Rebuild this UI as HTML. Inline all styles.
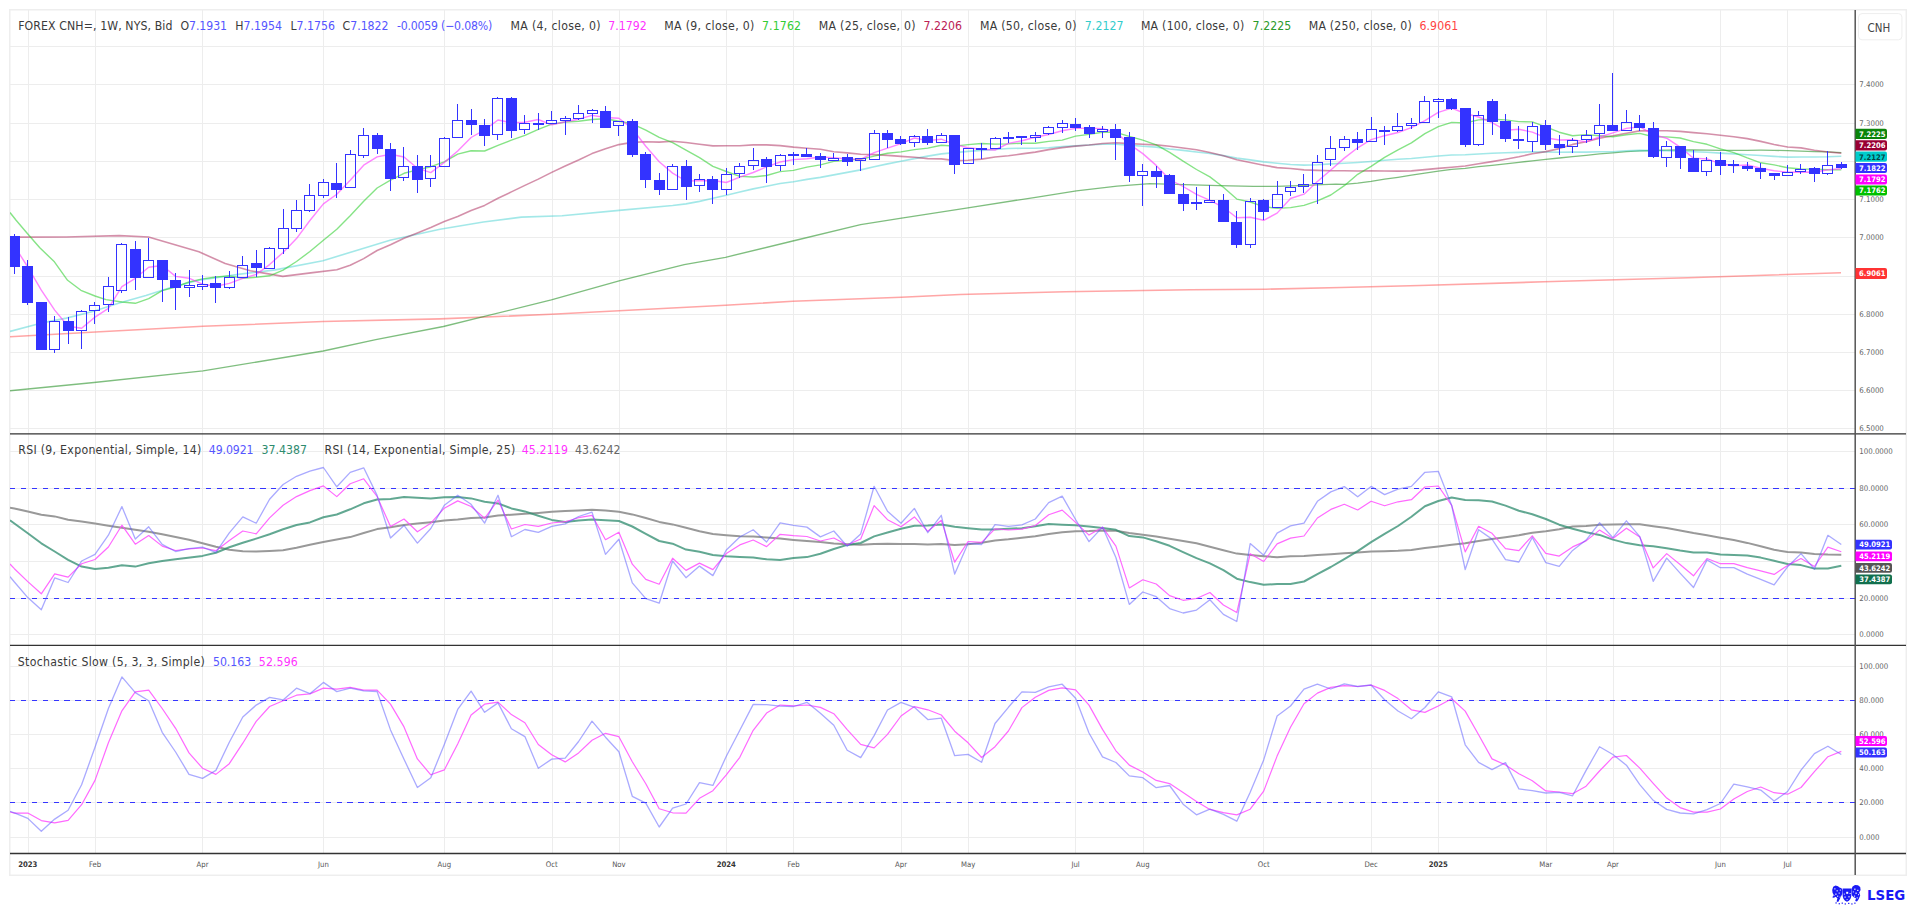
<!DOCTYPE html>
<html><head><meta charset="utf-8"><title>FOREX CNH= chart</title>
<style>html,body{margin:0;padding:0;background:#fff;width:1916px;height:905px;overflow:hidden}svg{display:block}</style>
</head><body>
<svg width="1916" height="905" viewBox="0 0 1916 905" font-family="'DejaVu Sans Condensed','DejaVu Sans','Liberation Sans',sans-serif">
<rect x="0" y="0" width="1916" height="905" fill="#ffffff"/>
<rect x="9.75" y="9.75" width="1896.5" height="865.5" fill="none" stroke="#eeeeee" stroke-width="1.5"/>
<g stroke="#ededed" stroke-width="1" shape-rendering="crispEdges">
<line x1="28.5" y1="10" x2="28.5" y2="853"/>
<line x1="95.5" y1="10" x2="95.5" y2="853"/>
<line x1="202.5" y1="10" x2="202.5" y2="853"/>
<line x1="323.5" y1="10" x2="323.5" y2="853"/>
<line x1="444.5" y1="10" x2="444.5" y2="853"/>
<line x1="552.5" y1="10" x2="552.5" y2="853"/>
<line x1="619.5" y1="10" x2="619.5" y2="853"/>
<line x1="726.5" y1="10" x2="726.5" y2="853"/>
<line x1="793.5" y1="10" x2="793.5" y2="853"/>
<line x1="901.5" y1="10" x2="901.5" y2="853"/>
<line x1="968.5" y1="10" x2="968.5" y2="853"/>
<line x1="1075.5" y1="10" x2="1075.5" y2="853"/>
<line x1="1143.5" y1="10" x2="1143.5" y2="853"/>
<line x1="1263.5" y1="10" x2="1263.5" y2="853"/>
<line x1="1371.5" y1="10" x2="1371.5" y2="853"/>
<line x1="1438.5" y1="10" x2="1438.5" y2="853"/>
<line x1="1546.5" y1="10" x2="1546.5" y2="853"/>
<line x1="1613.5" y1="10" x2="1613.5" y2="853"/>
<line x1="1720.5" y1="10" x2="1720.5" y2="853"/>
<line x1="1787.5" y1="10" x2="1787.5" y2="853"/>
<line x1="10" y1="46.5" x2="1855" y2="46.5"/>
<line x1="10" y1="84.5" x2="1855" y2="84.5"/>
<line x1="10" y1="123.5" x2="1855" y2="123.5"/>
<line x1="10" y1="161.5" x2="1855" y2="161.5"/>
<line x1="10" y1="199.5" x2="1855" y2="199.5"/>
<line x1="10" y1="237.5" x2="1855" y2="237.5"/>
<line x1="10" y1="276.5" x2="1855" y2="276.5"/>
<line x1="10" y1="314.5" x2="1855" y2="314.5"/>
<line x1="10" y1="352.5" x2="1855" y2="352.5"/>
<line x1="10" y1="390.5" x2="1855" y2="390.5"/>
<line x1="10" y1="428.5" x2="1855" y2="428.5"/>
<line x1="10" y1="451.5" x2="1855" y2="451.5"/>
<line x1="10" y1="666.5" x2="1855" y2="666.5"/>
<line x1="10" y1="488.5" x2="1855" y2="488.5"/>
<line x1="10" y1="700.5" x2="1855" y2="700.5"/>
<line x1="10" y1="524.5" x2="1855" y2="524.5"/>
<line x1="10" y1="734.5" x2="1855" y2="734.5"/>
<line x1="10" y1="561.5" x2="1855" y2="561.5"/>
<line x1="10" y1="768.5" x2="1855" y2="768.5"/>
<line x1="10" y1="598.5" x2="1855" y2="598.5"/>
<line x1="10" y1="802.5" x2="1855" y2="802.5"/>
<line x1="10" y1="634.5" x2="1855" y2="634.5"/>
<line x1="10" y1="837.5" x2="1855" y2="837.5"/>
</g>
<g stroke="#3535ff" stroke-width="1" stroke-dasharray="5.2 5.685" shape-rendering="crispEdges">
<line x1="10" y1="488.5" x2="1855" y2="488.5"/>
<line x1="10" y1="700.5" x2="1855" y2="700.5"/>
<line x1="10" y1="598.5" x2="1855" y2="598.5"/>
<line x1="10" y1="802.5" x2="1855" y2="802.5"/>
</g>
<defs><clipPath id="cm"><rect x="10" y="10" width="1845" height="423"/></clipPath><clipPath id="cr"><rect x="10" y="435" width="1845" height="210"/></clipPath><clipPath id="cs"><rect x="10" y="646" width="1845" height="207"/></clipPath></defs>
<g clip-path="url(#cm)" fill="none" stroke-width="1.6" stroke-linejoin="round">
<path d="M10.0,336.7 L100.0,331.8 L203.0,326.3 L323.0,321.5 L440.0,318.9 L551.3,314.3 L725.5,305.3 L792.8,301.3 L901.3,297.2 L960.0,294.5 L1065.3,291.7 L1190.6,289.7 L1265.8,289.2 L1341.0,287.5 L1420.0,285.5 L1544.0,281.8 L1688.0,277.7 L1841.0,272.7" stroke="#ff4d4d" stroke-opacity="0.5"/>
<path d="M10.0,390.8 L94.0,382.5 L203.0,370.9 L323.2,351.0 L375.8,339.7 L443.4,326.5 L483.4,316.7 L551.3,299.9 L619.1,280.9 L684.2,264.6 L725.5,257.3 L792.8,241.0 L860.6,224.7 L900.0,218.4 L967.9,207.8 L1035.7,197.3 L1076.4,190.9 L1117.1,186.1 L1150.0,183.6 L1184.4,184.7 L1218.9,185.7 L1253.3,186.4 L1276.3,186.4 L1299.3,185.7 L1322.2,184.6 L1336.0,184.2 L1344.3,184.4 L1357.7,183.2 L1371.1,181.4 L1384.6,179.2 L1398.0,177.3 L1411.4,175.2 L1424.9,173.1 L1438.3,171.1 L1451.7,169.3 L1465.2,168.3 L1478.6,166.7 L1492.0,165.3 L1505.5,163.9 L1518.9,162.4 L1532.3,160.8 L1545.8,159.4 L1559.2,158.0 L1572.6,156.7 L1586.1,155.4 L1599.5,153.9 L1612.9,152.8 L1626.4,151.7 L1639.8,150.9 L1653.2,150.5 L1666.7,150.1 L1680.1,149.8 L1693.5,150.0 L1707.0,150.2 L1720.4,150.4 L1733.8,150.3 L1747.3,150.3 L1760.7,150.2 L1774.1,150.3 L1787.6,150.7 L1801.0,151.2 L1814.4,151.6 L1827.9,151.9 L1841.3,152.6" stroke="#2a922a" stroke-opacity="0.6" stroke-width="1.35"/>
<path d="M10.0,331.4 L39.8,323.4 L66.3,318.1 L92.8,311.5 L119.3,302.9 L145.9,295.6 L172.4,287.0 L198.9,280.3 L225.4,276.4 L240.0,274.1 L275.3,269.9 L322.9,260.7 L390.0,240.3 L440.0,229.3 L483.4,222.0 L521.4,217.1 L562.1,215.8 L619.1,210.4 L672.6,205.5 L686.0,203.9 L699.5,201.4 L712.9,198.2 L726.3,195.3 L739.8,192.0 L753.2,188.9 L766.6,186.2 L780.1,183.5 L793.5,181.8 L806.9,179.4 L820.4,177.4 L833.8,174.9 L847.2,172.4 L860.7,169.9 L874.1,166.8 L887.5,163.9 L901.0,161.2 L914.4,158.6 L927.8,156.1 L941.3,153.9 L954.7,152.6 L968.1,151.4 L981.6,150.4 L995.0,149.5 L1008.4,148.5 L1021.9,148.2 L1035.3,148.2 L1048.7,147.7 L1062.2,146.6 L1075.6,145.9 L1089.0,145.0 L1102.5,144.2 L1115.9,144.2 L1129.3,145.3 L1142.8,146.3 L1156.2,147.1 L1169.6,149.0 L1183.1,150.4 L1196.5,152.0 L1209.9,153.5 L1223.4,155.6 L1236.8,158.1 L1250.2,159.9 L1263.7,161.9 L1277.1,163.2 L1290.5,164.5 L1304.0,165.1 L1317.4,164.7 L1330.8,163.9 L1344.3,163.3 L1357.7,162.5 L1371.1,161.5 L1384.6,160.3 L1398.0,159.3 L1411.4,158.5 L1424.9,157.3 L1438.3,156.0 L1451.7,155.0 L1465.2,154.8 L1478.6,154.0 L1492.0,153.2 L1505.5,152.8 L1518.9,152.4 L1532.3,151.8 L1545.8,152.0 L1559.2,152.2 L1572.6,152.1 L1586.1,152.1 L1599.5,151.7 L1612.9,151.7 L1626.4,150.8 L1639.8,150.4 L1653.2,150.6 L1666.7,150.7 L1680.1,151.1 L1693.5,151.8 L1707.0,152.3 L1720.4,153.1 L1733.8,153.9 L1747.3,154.7 L1760.7,155.5 L1774.1,156.4 L1787.6,157.1 L1801.0,157.0 L1814.4,157.0 L1827.9,156.8 L1841.3,156.3" stroke="#33cccc" stroke-opacity="0.45"/>
<path d="M10.0,237.1 L66.3,237.0 L119.3,235.6 L148.5,237.0 L172.4,243.9 L198.9,251.8 L225.2,263.5 L250.2,270.7 L282.8,276.4 L312.8,272.6 L336.8,269.8 L350.2,265.3 L363.7,258.6 L377.1,250.5 L390.5,244.8 L404.0,238.2 L417.4,232.9 L430.8,227.4 L444.3,221.5 L457.7,216.5 L471.1,210.4 L484.6,205.4 L498.0,198.2 L511.4,191.9 L524.9,185.4 L538.3,179.1 L551.7,172.4 L565.2,166.0 L578.6,160.0 L592.0,153.6 L605.5,148.8 L618.9,144.6 L632.3,142.4 L645.8,141.8 L659.2,142.1 L672.6,141.2 L686.0,142.5 L699.5,144.2 L712.9,145.9 L726.3,145.7 L739.8,145.7 L753.2,144.9 L766.6,144.9 L780.1,145.6 L793.5,147.1 L806.9,148.3 L820.4,149.3 L833.8,151.7 L847.2,152.9 L860.7,154.3 L874.1,154.6 L887.5,155.4 L901.0,156.4 L914.4,157.3 L927.8,158.6 L941.3,158.9 L954.7,160.6 L968.1,160.3 L981.6,159.1 L995.0,157.0 L1008.4,155.8 L1021.9,153.9 L1035.3,152.1 L1048.7,149.6 L1062.2,147.6 L1075.6,146.1 L1089.0,145.0 L1102.5,143.5 L1115.9,142.8 L1129.3,143.6 L1142.8,144.2 L1156.2,144.9 L1169.6,146.3 L1183.1,148.0 L1196.5,149.8 L1209.9,152.5 L1223.4,155.8 L1236.8,159.8 L1250.2,162.5 L1263.7,165.2 L1277.1,167.6 L1290.5,168.5 L1304.0,169.9 L1317.4,170.4 L1330.8,170.8 L1344.3,170.8 L1357.7,171.0 L1371.1,170.8 L1384.6,171.0 L1398.0,171.1 L1411.4,170.9 L1424.9,169.6 L1438.3,168.4 L1451.7,167.2 L1465.2,166.0 L1478.6,163.8 L1492.0,161.6 L1505.5,159.3 L1518.9,156.8 L1532.3,153.8 L1545.8,151.6 L1559.2,148.6 L1572.6,144.4 L1586.1,141.7 L1599.5,138.2 L1612.9,135.7 L1626.4,133.2 L1639.8,130.9 L1653.2,130.7 L1666.7,130.7 L1680.1,131.4 L1693.5,132.6 L1707.0,133.8 L1720.4,135.2 L1733.8,136.7 L1747.3,138.6 L1760.7,141.4 L1774.1,144.5 L1787.6,147.0 L1801.0,147.9 L1814.4,150.3 L1827.9,152.0 L1841.3,153.2" stroke="#aa2255" stroke-opacity="0.5"/>
<path d="M10.0,212.5 L15.9,220.0 L27.8,234.0 L39.8,247.8 L54.4,261.8 L67.6,280.3 L80.9,290.3 L95.0,296.0 L106.0,299.6 L121.9,302.0 L135.3,303.3 L148.7,298.6 L162.2,290.7 L175.6,287.0 L189.0,282.0 L202.5,278.9 L215.9,277.0 L229.3,275.9 L242.8,278.3 L256.2,277.2 L269.6,275.8 L283.1,270.1 L296.5,261.5 L309.9,251.5 L323.4,240.2 L336.8,229.3 L350.2,215.7 L363.7,201.2 L377.1,188.0 L390.5,180.2 L404.0,173.3 L417.4,169.9 L430.8,166.7 L444.3,161.8 L457.7,154.1 L471.1,150.8 L484.6,151.0 L498.0,145.4 L511.4,140.1 L524.9,135.4 L538.3,129.3 L551.7,124.2 L565.2,122.0 L578.6,121.2 L592.0,119.5 L605.5,118.7 L618.9,121.2 L632.3,123.8 L645.8,130.2 L659.2,137.4 L672.6,142.6 L686.0,150.2 L699.5,157.6 L712.9,166.4 L726.3,171.5 L739.8,176.4 L753.2,177.0 L766.6,175.5 L780.1,171.6 L793.5,170.4 L806.9,167.1 L820.4,164.9 L833.8,161.4 L847.2,160.0 L860.7,159.2 L874.1,156.1 L887.5,153.2 L901.0,151.9 L914.4,149.6 L927.8,148.1 L941.3,145.3 L954.7,146.1 L968.1,144.6 L981.6,143.5 L995.0,144.1 L1008.4,143.9 L1021.9,143.2 L1035.3,143.2 L1048.7,141.4 L1062.2,140.1 L1075.6,136.1 L1089.0,134.4 L1102.5,132.2 L1115.9,132.3 L1129.3,136.4 L1142.8,140.2 L1156.2,144.8 L1169.6,152.3 L1183.1,161.2 L1196.5,169.5 L1209.9,176.9 L1223.4,187.2 L1236.8,199.1 L1250.2,202.0 L1263.7,206.6 L1277.1,208.4 L1290.5,207.6 L1304.0,205.4 L1317.4,200.8 L1330.8,195.0 L1344.3,185.7 L1357.7,174.3 L1371.1,166.3 L1384.6,157.4 L1398.0,149.9 L1411.4,142.8 L1424.9,133.6 L1438.3,126.7 L1451.7,122.4 L1465.2,123.0 L1478.6,119.9 L1492.0,119.2 L1505.5,119.9 L1518.9,121.6 L1532.3,121.9 L1545.8,126.8 L1559.2,132.2 L1572.6,135.7 L1586.1,134.6 L1599.5,135.7 L1612.9,136.7 L1626.4,134.8 L1639.8,133.4 L1653.2,136.8 L1666.7,136.9 L1680.1,138.0 L1693.5,141.6 L1707.0,144.3 L1720.4,148.8 L1733.8,152.6 L1747.3,157.9 L1760.7,162.8 L1774.1,164.9 L1787.6,167.7 L1801.0,169.0 L1814.4,169.1 L1827.9,169.7 L1841.3,169.9" stroke="#22cc22" stroke-opacity="0.55" stroke-width="1.4"/>
<path d="M10.0,240.0 L14.4,246.0 L27.8,267.0 L41.3,290.2 L54.7,310.1 L68.1,326.2 L81.6,328.3 L95.0,317.1 L108.4,308.4 L121.9,286.7 L135.3,278.3 L148.7,267.2 L162.2,265.5 L175.6,276.4 L189.0,278.2 L202.5,284.2 L215.9,286.2 L229.3,283.4 L242.8,278.4 L256.2,274.4 L269.6,264.6 L283.1,252.4 L296.5,238.6 L309.9,220.5 L323.4,203.9 L336.8,194.3 L350.2,180.3 L363.7,165.2 L377.1,156.9 L390.5,154.2 L404.0,157.0 L417.4,168.2 L430.8,172.6 L444.3,162.4 L457.7,151.0 L471.1,137.5 L484.6,129.9 L498.0,120.0 L511.4,122.8 L524.9,122.2 L538.3,119.5 L551.7,124.9 L565.2,121.7 L578.6,119.2 L592.0,115.4 L605.5,117.5 L618.9,118.2 L632.3,128.7 L645.8,146.2 L659.2,161.7 L672.6,173.1 L686.0,181.0 L699.5,180.7 L712.9,180.5 L726.3,182.5 L739.8,177.2 L753.2,172.5 L766.6,166.8 L780.1,162.0 L793.5,159.6 L806.9,158.7 L820.4,157.0 L833.8,157.6 L847.2,159.0 L860.7,159.4 L874.1,152.6 L887.5,148.2 L901.0,143.7 L914.4,138.0 L927.8,140.6 L941.3,139.2 L954.7,144.6 L968.1,147.7 L981.6,149.2 L995.0,150.0 L1008.4,143.4 L1021.9,140.7 L1035.3,137.2 L1048.7,134.5 L1062.2,130.8 L1075.6,128.4 L1089.0,128.1 L1102.5,128.6 L1115.9,132.3 L1129.3,144.1 L1142.8,153.6 L1156.2,165.4 L1169.6,179.5 L1183.1,186.5 L1196.5,194.4 L1209.9,200.3 L1223.4,207.3 L1236.8,217.7 L1250.2,217.3 L1263.7,220.3 L1277.1,213.1 L1290.5,198.5 L1304.0,194.2 L1317.4,181.5 L1330.8,170.0 L1344.3,158.1 L1357.7,147.8 L1371.1,139.7 L1384.6,135.7 L1398.0,132.5 L1411.4,127.6 L1424.9,120.6 L1438.3,112.4 L1451.7,108.1 L1465.2,113.5 L1478.6,117.0 L1492.0,122.7 L1505.5,130.2 L1518.9,129.3 L1532.3,132.1 L1545.8,137.7 L1559.2,140.0 L1572.6,139.8 L1586.1,141.9 L1599.5,137.0 L1612.9,132.8 L1626.4,128.4 L1639.8,126.7 L1653.2,134.6 L1666.7,138.2 L1680.1,147.1 L1693.5,158.2 L1707.0,158.9 L1720.4,163.8 L1733.8,165.8 L1747.3,165.0 L1760.7,168.2 L1774.1,170.7 L1787.6,172.2 L1801.0,172.0 L1814.4,172.3 L1827.9,169.8 L1841.3,168.8" stroke="#ff33ff" stroke-opacity="0.6" stroke-width="1.4"/>
</g>
<g clip-path="url(#cm)" stroke="#3333ff" stroke-width="1" shape-rendering="crispEdges">
<line x1="14.5" y1="234" x2="14.5" y2="274"/>
<rect x="9.0" y="236" width="11" height="31" fill="#3333ff" stroke="none"/>
<line x1="27.5" y1="260" x2="27.5" y2="305"/>
<rect x="22.0" y="266" width="11" height="37" fill="#3333ff" stroke="none"/>
<line x1="41.5" y1="302" x2="41.5" y2="350"/>
<rect x="36.0" y="302" width="11" height="48" fill="#3333ff" stroke="none"/>
<line x1="54.5" y1="316" x2="54.5" y2="321"/>
<line x1="54.5" y1="350" x2="54.5" y2="353"/>
<rect x="49.5" y="321.5" width="10" height="28" fill="none"/>
<line x1="68.5" y1="317" x2="68.5" y2="344"/>
<rect x="63.0" y="321" width="11" height="10" fill="#3333ff" stroke="none"/>
<line x1="81.5" y1="310" x2="81.5" y2="311"/>
<line x1="81.5" y1="331" x2="81.5" y2="349"/>
<rect x="76.5" y="311.5" width="10" height="19" fill="none"/>
<line x1="94.5" y1="302" x2="94.5" y2="305"/>
<line x1="94.5" y1="311" x2="94.5" y2="324"/>
<rect x="89.5" y="305.5" width="10" height="5" fill="none"/>
<line x1="108.5" y1="277" x2="108.5" y2="286"/>
<line x1="108.5" y1="305" x2="108.5" y2="312"/>
<rect x="103.5" y="286.5" width="10" height="18" fill="none"/>
<line x1="121.5" y1="243" x2="121.5" y2="244"/>
<line x1="121.5" y1="291" x2="121.5" y2="293"/>
<rect x="116.5" y="244.5" width="10" height="46" fill="none"/>
<line x1="135.5" y1="241" x2="135.5" y2="290"/>
<rect x="130.0" y="249" width="11" height="29" fill="#3333ff" stroke="none"/>
<line x1="148.5" y1="238" x2="148.5" y2="260"/>
<rect x="143.5" y="260.5" width="10" height="17" fill="none"/>
<line x1="162.5" y1="260" x2="162.5" y2="302"/>
<rect x="157.0" y="260" width="11" height="20" fill="#3333ff" stroke="none"/>
<line x1="175.5" y1="273" x2="175.5" y2="310"/>
<rect x="170.0" y="280" width="11" height="8" fill="#3333ff" stroke="none"/>
<line x1="189.5" y1="270" x2="189.5" y2="285"/>
<line x1="189.5" y1="288" x2="189.5" y2="297"/>
<rect x="184.5" y="285.5" width="10" height="2" fill="none"/>
<line x1="202.5" y1="275" x2="202.5" y2="284"/>
<line x1="202.5" y1="287" x2="202.5" y2="290"/>
<rect x="197.5" y="284.5" width="10" height="2" fill="none"/>
<line x1="215.5" y1="276" x2="215.5" y2="303"/>
<rect x="210.0" y="283" width="11" height="5" fill="#3333ff" stroke="none"/>
<line x1="229.5" y1="271" x2="229.5" y2="277"/>
<line x1="229.5" y1="288" x2="229.5" y2="289"/>
<rect x="224.5" y="277.5" width="10" height="10" fill="none"/>
<line x1="242.5" y1="256" x2="242.5" y2="265"/>
<rect x="237.5" y="265.5" width="10" height="12" fill="none"/>
<line x1="256.5" y1="250" x2="256.5" y2="277"/>
<rect x="251.0" y="263" width="11" height="5" fill="#3333ff" stroke="none"/>
<line x1="269.5" y1="247" x2="269.5" y2="248"/>
<rect x="264.5" y="248.5" width="10" height="20" fill="none"/>
<line x1="283.5" y1="209" x2="283.5" y2="228"/>
<line x1="283.5" y1="249" x2="283.5" y2="254"/>
<rect x="278.5" y="228.5" width="10" height="20" fill="none"/>
<line x1="296.5" y1="200" x2="296.5" y2="210"/>
<line x1="296.5" y1="229" x2="296.5" y2="232"/>
<rect x="291.5" y="210.5" width="10" height="18" fill="none"/>
<line x1="309.5" y1="184" x2="309.5" y2="195"/>
<line x1="309.5" y1="211" x2="309.5" y2="212"/>
<rect x="304.5" y="195.5" width="10" height="15" fill="none"/>
<line x1="323.5" y1="179" x2="323.5" y2="182"/>
<line x1="323.5" y1="196" x2="323.5" y2="198"/>
<rect x="318.5" y="182.5" width="10" height="13" fill="none"/>
<line x1="336.5" y1="163" x2="336.5" y2="198"/>
<rect x="331.0" y="183" width="11" height="7" fill="#3333ff" stroke="none"/>
<line x1="350.5" y1="150" x2="350.5" y2="154"/>
<rect x="345.5" y="154.5" width="10" height="33" fill="none"/>
<line x1="363.5" y1="128" x2="363.5" y2="135"/>
<line x1="363.5" y1="156" x2="363.5" y2="158"/>
<rect x="358.5" y="135.5" width="10" height="20" fill="none"/>
<line x1="377.5" y1="133" x2="377.5" y2="154"/>
<rect x="372.0" y="135" width="11" height="14" fill="#3333ff" stroke="none"/>
<line x1="390.5" y1="143" x2="390.5" y2="191"/>
<rect x="385.0" y="149" width="11" height="30" fill="#3333ff" stroke="none"/>
<line x1="403.5" y1="147" x2="403.5" y2="166"/>
<line x1="403.5" y1="178" x2="403.5" y2="181"/>
<rect x="398.5" y="166.5" width="10" height="11" fill="none"/>
<line x1="417.5" y1="155" x2="417.5" y2="193"/>
<rect x="412.0" y="166" width="11" height="14" fill="#3333ff" stroke="none"/>
<line x1="430.5" y1="155" x2="430.5" y2="166"/>
<line x1="430.5" y1="179" x2="430.5" y2="187"/>
<rect x="425.5" y="166.5" width="10" height="12" fill="none"/>
<line x1="444.5" y1="137" x2="444.5" y2="138"/>
<rect x="439.5" y="138.5" width="10" height="28" fill="none"/>
<line x1="457.5" y1="104" x2="457.5" y2="120"/>
<rect x="452.5" y="120.5" width="10" height="17" fill="none"/>
<line x1="471.5" y1="109" x2="471.5" y2="135"/>
<rect x="466.0" y="120" width="11" height="5" fill="#3333ff" stroke="none"/>
<line x1="484.5" y1="119" x2="484.5" y2="146"/>
<rect x="479.0" y="125" width="11" height="11" fill="#3333ff" stroke="none"/>
<line x1="497.5" y1="97" x2="497.5" y2="98"/>
<line x1="497.5" y1="135" x2="497.5" y2="140"/>
<rect x="492.5" y="98.5" width="10" height="36" fill="none"/>
<line x1="511.5" y1="97" x2="511.5" y2="138"/>
<rect x="506.0" y="98" width="11" height="33" fill="#3333ff" stroke="none"/>
<line x1="524.5" y1="115" x2="524.5" y2="123"/>
<line x1="524.5" y1="130" x2="524.5" y2="134"/>
<rect x="519.5" y="123.5" width="10" height="6" fill="none"/>
<line x1="538.5" y1="113" x2="538.5" y2="130"/>
<rect x="533.0" y="123" width="11" height="2" fill="#3333ff" stroke="none"/>
<line x1="551.5" y1="111" x2="551.5" y2="120"/>
<rect x="546.5" y="120.5" width="10" height="3" fill="none"/>
<line x1="565.5" y1="116" x2="565.5" y2="118"/>
<line x1="565.5" y1="121" x2="565.5" y2="135"/>
<rect x="560.5" y="118.5" width="10" height="2" fill="none"/>
<line x1="578.5" y1="105" x2="578.5" y2="113"/>
<line x1="578.5" y1="119" x2="578.5" y2="120"/>
<rect x="573.5" y="113.5" width="10" height="5" fill="none"/>
<line x1="592.5" y1="109" x2="592.5" y2="110"/>
<line x1="592.5" y1="114" x2="592.5" y2="123"/>
<rect x="587.5" y="110.5" width="10" height="3" fill="none"/>
<line x1="605.5" y1="106" x2="605.5" y2="128"/>
<rect x="600.0" y="111" width="11" height="17" fill="#3333ff" stroke="none"/>
<line x1="618.5" y1="126" x2="618.5" y2="136"/>
<rect x="613.5" y="121.5" width="10" height="4" fill="none"/>
<line x1="632.5" y1="119" x2="632.5" y2="157"/>
<rect x="627.0" y="121" width="11" height="34" fill="#3333ff" stroke="none"/>
<line x1="645.5" y1="152" x2="645.5" y2="188"/>
<rect x="640.0" y="154" width="11" height="26" fill="#3333ff" stroke="none"/>
<line x1="659.5" y1="173" x2="659.5" y2="195"/>
<rect x="654.0" y="180" width="11" height="10" fill="#3333ff" stroke="none"/>
<line x1="672.5" y1="164" x2="672.5" y2="166"/>
<rect x="667.5" y="166.5" width="10" height="23" fill="none"/>
<line x1="686.5" y1="160" x2="686.5" y2="200"/>
<rect x="681.0" y="166" width="11" height="21" fill="#3333ff" stroke="none"/>
<line x1="699.5" y1="174" x2="699.5" y2="179"/>
<line x1="699.5" y1="186" x2="699.5" y2="192"/>
<rect x="694.5" y="179.5" width="10" height="6" fill="none"/>
<line x1="712.5" y1="176" x2="712.5" y2="204"/>
<rect x="707.0" y="179" width="11" height="11" fill="#3333ff" stroke="none"/>
<line x1="726.5" y1="168" x2="726.5" y2="174"/>
<line x1="726.5" y1="190" x2="726.5" y2="195"/>
<rect x="721.5" y="174.5" width="10" height="15" fill="none"/>
<line x1="739.5" y1="163" x2="739.5" y2="166"/>
<line x1="739.5" y1="174" x2="739.5" y2="178"/>
<rect x="734.5" y="166.5" width="10" height="7" fill="none"/>
<line x1="753.5" y1="148" x2="753.5" y2="160"/>
<line x1="753.5" y1="166" x2="753.5" y2="170"/>
<rect x="748.5" y="160.5" width="10" height="5" fill="none"/>
<line x1="766.5" y1="157" x2="766.5" y2="183"/>
<rect x="761.0" y="159" width="11" height="8" fill="#3333ff" stroke="none"/>
<line x1="780.5" y1="154" x2="780.5" y2="155"/>
<line x1="780.5" y1="166" x2="780.5" y2="171"/>
<rect x="775.5" y="155.5" width="10" height="10" fill="none"/>
<line x1="793.5" y1="152" x2="793.5" y2="165"/>
<rect x="788.0" y="154" width="11" height="2" fill="#3333ff" stroke="none"/>
<line x1="806.5" y1="148" x2="806.5" y2="157"/>
<rect x="801.0" y="154" width="11" height="3" fill="#3333ff" stroke="none"/>
<line x1="820.5" y1="153" x2="820.5" y2="168"/>
<rect x="815.0" y="156" width="11" height="4" fill="#3333ff" stroke="none"/>
<line x1="833.5" y1="153" x2="833.5" y2="158"/>
<rect x="828.5" y="158.5" width="10" height="2" fill="none"/>
<line x1="847.5" y1="154" x2="847.5" y2="166"/>
<rect x="842.0" y="157" width="11" height="5" fill="#3333ff" stroke="none"/>
<line x1="860.5" y1="161" x2="860.5" y2="171"/>
<rect x="855.5" y="158.5" width="10" height="2" fill="none"/>
<line x1="874.5" y1="130" x2="874.5" y2="133"/>
<rect x="869.5" y="133.5" width="10" height="26" fill="none"/>
<line x1="887.5" y1="130" x2="887.5" y2="148"/>
<rect x="882.0" y="133" width="11" height="7" fill="#3333ff" stroke="none"/>
<line x1="900.5" y1="136" x2="900.5" y2="145"/>
<rect x="895.0" y="139" width="11" height="5" fill="#3333ff" stroke="none"/>
<line x1="914.5" y1="135" x2="914.5" y2="136"/>
<line x1="914.5" y1="143" x2="914.5" y2="147"/>
<rect x="909.5" y="136.5" width="10" height="6" fill="none"/>
<line x1="927.5" y1="129" x2="927.5" y2="145"/>
<rect x="922.0" y="136" width="11" height="7" fill="#3333ff" stroke="none"/>
<line x1="941.5" y1="133" x2="941.5" y2="135"/>
<rect x="936.5" y="135.5" width="10" height="7" fill="none"/>
<line x1="954.5" y1="135" x2="954.5" y2="174"/>
<rect x="949.0" y="135" width="11" height="30" fill="#3333ff" stroke="none"/>
<rect x="963.5" y="148.5" width="10" height="15" fill="none"/>
<line x1="981.5" y1="143" x2="981.5" y2="159"/>
<rect x="976.0" y="148" width="11" height="2" fill="#3333ff" stroke="none"/>
<line x1="995.5" y1="137" x2="995.5" y2="138"/>
<rect x="990.5" y="138.5" width="10" height="10" fill="none"/>
<line x1="1008.5" y1="132" x2="1008.5" y2="143"/>
<rect x="1003.0" y="137" width="11" height="2" fill="#3333ff" stroke="none"/>
<line x1="1021.5" y1="136" x2="1021.5" y2="145"/>
<rect x="1016.0" y="136" width="11" height="2" fill="#3333ff" stroke="none"/>
<line x1="1035.5" y1="132" x2="1035.5" y2="135"/>
<line x1="1035.5" y1="138" x2="1035.5" y2="142"/>
<rect x="1030.5" y="135.5" width="10" height="2" fill="none"/>
<line x1="1048.5" y1="126" x2="1048.5" y2="127"/>
<line x1="1048.5" y1="134" x2="1048.5" y2="135"/>
<rect x="1043.5" y="127.5" width="10" height="6" fill="none"/>
<line x1="1062.5" y1="120" x2="1062.5" y2="123"/>
<line x1="1062.5" y1="128" x2="1062.5" y2="133"/>
<rect x="1057.5" y="123.5" width="10" height="4" fill="none"/>
<line x1="1075.5" y1="118" x2="1075.5" y2="131"/>
<rect x="1070.0" y="124" width="11" height="4" fill="#3333ff" stroke="none"/>
<line x1="1089.5" y1="125" x2="1089.5" y2="138"/>
<rect x="1084.0" y="127" width="11" height="7" fill="#3333ff" stroke="none"/>
<line x1="1102.5" y1="126" x2="1102.5" y2="129"/>
<line x1="1102.5" y1="132" x2="1102.5" y2="138"/>
<rect x="1097.5" y="129.5" width="10" height="2" fill="none"/>
<line x1="1115.5" y1="124" x2="1115.5" y2="160"/>
<rect x="1110.0" y="129" width="11" height="9" fill="#3333ff" stroke="none"/>
<line x1="1129.5" y1="132" x2="1129.5" y2="182"/>
<rect x="1124.0" y="137" width="11" height="39" fill="#3333ff" stroke="none"/>
<line x1="1142.5" y1="164" x2="1142.5" y2="171"/>
<line x1="1142.5" y1="176" x2="1142.5" y2="206"/>
<rect x="1137.5" y="171.5" width="10" height="4" fill="none"/>
<line x1="1156.5" y1="166" x2="1156.5" y2="188"/>
<rect x="1151.0" y="171" width="11" height="6" fill="#3333ff" stroke="none"/>
<line x1="1169.5" y1="174" x2="1169.5" y2="194"/>
<rect x="1164.0" y="175" width="11" height="19" fill="#3333ff" stroke="none"/>
<line x1="1183.5" y1="183" x2="1183.5" y2="211"/>
<rect x="1178.0" y="194" width="11" height="10" fill="#3333ff" stroke="none"/>
<line x1="1196.5" y1="187" x2="1196.5" y2="210"/>
<rect x="1191.0" y="202" width="11" height="2" fill="#3333ff" stroke="none"/>
<line x1="1209.5" y1="185" x2="1209.5" y2="200"/>
<rect x="1204.5" y="200.5" width="10" height="2" fill="none"/>
<line x1="1223.5" y1="194" x2="1223.5" y2="222"/>
<rect x="1218.0" y="200" width="11" height="22" fill="#3333ff" stroke="none"/>
<line x1="1236.5" y1="211" x2="1236.5" y2="248"/>
<rect x="1231.0" y="222" width="11" height="23" fill="#3333ff" stroke="none"/>
<line x1="1250.5" y1="198" x2="1250.5" y2="201"/>
<line x1="1250.5" y1="245" x2="1250.5" y2="248"/>
<rect x="1245.5" y="201.5" width="10" height="43" fill="none"/>
<line x1="1263.5" y1="199" x2="1263.5" y2="220"/>
<rect x="1258.0" y="200" width="11" height="12" fill="#3333ff" stroke="none"/>
<line x1="1277.5" y1="181" x2="1277.5" y2="194"/>
<rect x="1272.5" y="194.5" width="10" height="13" fill="none"/>
<line x1="1290.5" y1="181" x2="1290.5" y2="187"/>
<line x1="1290.5" y1="192" x2="1290.5" y2="196"/>
<rect x="1285.5" y="187.5" width="10" height="4" fill="none"/>
<line x1="1303.5" y1="174" x2="1303.5" y2="184"/>
<line x1="1303.5" y1="187" x2="1303.5" y2="193"/>
<rect x="1298.5" y="184.5" width="10" height="2" fill="none"/>
<line x1="1317.5" y1="155" x2="1317.5" y2="162"/>
<line x1="1317.5" y1="184" x2="1317.5" y2="204"/>
<rect x="1312.5" y="162.5" width="10" height="21" fill="none"/>
<line x1="1330.5" y1="136" x2="1330.5" y2="148"/>
<line x1="1330.5" y1="160" x2="1330.5" y2="166"/>
<rect x="1325.5" y="148.5" width="10" height="11" fill="none"/>
<line x1="1344.5" y1="136" x2="1344.5" y2="139"/>
<line x1="1344.5" y1="148" x2="1344.5" y2="151"/>
<rect x="1339.5" y="139.5" width="10" height="8" fill="none"/>
<line x1="1357.5" y1="132" x2="1357.5" y2="150"/>
<rect x="1352.0" y="139" width="11" height="4" fill="#3333ff" stroke="none"/>
<line x1="1371.5" y1="117" x2="1371.5" y2="129"/>
<rect x="1366.5" y="129.5" width="10" height="12" fill="none"/>
<line x1="1384.5" y1="126" x2="1384.5" y2="145"/>
<rect x="1379.0" y="130" width="11" height="2" fill="#3333ff" stroke="none"/>
<line x1="1397.5" y1="113" x2="1397.5" y2="126"/>
<line x1="1397.5" y1="131" x2="1397.5" y2="132"/>
<rect x="1392.5" y="126.5" width="10" height="4" fill="none"/>
<line x1="1411.5" y1="118" x2="1411.5" y2="123"/>
<line x1="1411.5" y1="126" x2="1411.5" y2="129"/>
<rect x="1406.5" y="123.5" width="10" height="2" fill="none"/>
<line x1="1424.5" y1="96" x2="1424.5" y2="101"/>
<rect x="1419.5" y="101.5" width="10" height="21" fill="none"/>
<line x1="1438.5" y1="98" x2="1438.5" y2="99"/>
<line x1="1438.5" y1="102" x2="1438.5" y2="118"/>
<rect x="1433.5" y="99.5" width="10" height="2" fill="none"/>
<line x1="1451.5" y1="98" x2="1451.5" y2="110"/>
<rect x="1446.0" y="99" width="11" height="10" fill="#3333ff" stroke="none"/>
<line x1="1465.5" y1="108" x2="1465.5" y2="147"/>
<rect x="1460.0" y="108" width="11" height="37" fill="#3333ff" stroke="none"/>
<line x1="1478.5" y1="111" x2="1478.5" y2="115"/>
<line x1="1478.5" y1="145" x2="1478.5" y2="146"/>
<rect x="1473.5" y="115.5" width="10" height="29" fill="none"/>
<line x1="1492.5" y1="99" x2="1492.5" y2="135"/>
<rect x="1487.0" y="101" width="11" height="21" fill="#3333ff" stroke="none"/>
<line x1="1505.5" y1="114" x2="1505.5" y2="142"/>
<rect x="1500.0" y="121" width="11" height="18" fill="#3333ff" stroke="none"/>
<line x1="1518.5" y1="126" x2="1518.5" y2="149"/>
<rect x="1513.0" y="139" width="11" height="2" fill="#3333ff" stroke="none"/>
<line x1="1532.5" y1="122" x2="1532.5" y2="126"/>
<line x1="1532.5" y1="142" x2="1532.5" y2="152"/>
<rect x="1527.5" y="126.5" width="10" height="15" fill="none"/>
<line x1="1545.5" y1="120" x2="1545.5" y2="150"/>
<rect x="1540.0" y="125" width="11" height="20" fill="#3333ff" stroke="none"/>
<line x1="1559.5" y1="135" x2="1559.5" y2="155"/>
<rect x="1554.0" y="144" width="11" height="4" fill="#3333ff" stroke="none"/>
<line x1="1572.5" y1="138" x2="1572.5" y2="140"/>
<line x1="1572.5" y1="147" x2="1572.5" y2="153"/>
<rect x="1567.5" y="140.5" width="10" height="6" fill="none"/>
<line x1="1586.5" y1="130" x2="1586.5" y2="135"/>
<line x1="1586.5" y1="140" x2="1586.5" y2="143"/>
<rect x="1581.5" y="135.5" width="10" height="4" fill="none"/>
<line x1="1599.5" y1="104" x2="1599.5" y2="125"/>
<line x1="1599.5" y1="134" x2="1599.5" y2="146"/>
<rect x="1594.5" y="125.5" width="10" height="8" fill="none"/>
<line x1="1612.5" y1="73" x2="1612.5" y2="131"/>
<rect x="1607.0" y="125" width="11" height="6" fill="#3333ff" stroke="none"/>
<line x1="1626.5" y1="110" x2="1626.5" y2="122"/>
<rect x="1621.5" y="122.5" width="10" height="8" fill="none"/>
<line x1="1639.5" y1="115" x2="1639.5" y2="131"/>
<rect x="1634.0" y="123" width="11" height="5" fill="#3333ff" stroke="none"/>
<line x1="1653.5" y1="122" x2="1653.5" y2="158"/>
<rect x="1648.0" y="128" width="11" height="29" fill="#3333ff" stroke="none"/>
<line x1="1666.5" y1="141" x2="1666.5" y2="146"/>
<line x1="1666.5" y1="158" x2="1666.5" y2="167"/>
<rect x="1661.5" y="146.5" width="10" height="11" fill="none"/>
<line x1="1680.5" y1="146" x2="1680.5" y2="169"/>
<rect x="1675.0" y="146" width="11" height="12" fill="#3333ff" stroke="none"/>
<line x1="1693.5" y1="150" x2="1693.5" y2="172"/>
<rect x="1688.0" y="158" width="11" height="14" fill="#3333ff" stroke="none"/>
<line x1="1706.5" y1="157" x2="1706.5" y2="160"/>
<line x1="1706.5" y1="172" x2="1706.5" y2="176"/>
<rect x="1701.5" y="160.5" width="10" height="11" fill="none"/>
<line x1="1720.5" y1="152" x2="1720.5" y2="175"/>
<rect x="1715.0" y="160" width="11" height="6" fill="#3333ff" stroke="none"/>
<line x1="1733.5" y1="160" x2="1733.5" y2="173"/>
<rect x="1728.0" y="164" width="11" height="2" fill="#3333ff" stroke="none"/>
<line x1="1747.5" y1="162" x2="1747.5" y2="171"/>
<rect x="1742.0" y="166" width="11" height="3" fill="#3333ff" stroke="none"/>
<line x1="1760.5" y1="163" x2="1760.5" y2="179"/>
<rect x="1755.0" y="168" width="11" height="4" fill="#3333ff" stroke="none"/>
<line x1="1774.5" y1="173" x2="1774.5" y2="180"/>
<rect x="1769.0" y="173" width="11" height="3" fill="#3333ff" stroke="none"/>
<line x1="1787.5" y1="165" x2="1787.5" y2="172"/>
<rect x="1782.5" y="172.5" width="10" height="3" fill="none"/>
<line x1="1800.5" y1="164" x2="1800.5" y2="169"/>
<line x1="1800.5" y1="172" x2="1800.5" y2="174"/>
<rect x="1795.5" y="169.5" width="10" height="2" fill="none"/>
<line x1="1814.5" y1="167" x2="1814.5" y2="182"/>
<rect x="1809.0" y="168" width="11" height="6" fill="#3333ff" stroke="none"/>
<line x1="1827.5" y1="151" x2="1827.5" y2="165"/>
<line x1="1827.5" y1="174" x2="1827.5" y2="175"/>
<rect x="1822.5" y="165.5" width="10" height="8" fill="none"/>
<line x1="1841.5" y1="162" x2="1841.5" y2="169"/>
<rect x="1836.0" y="164" width="11" height="4" fill="#3333ff" stroke="none"/>
</g>
<g clip-path="url(#cr)" fill="none" stroke-linejoin="round">
<path d="M10.0,507.7 L14.4,508.4 L27.8,511.4 L41.3,514.7 L54.7,516.4 L68.1,519.7 L81.6,521.5 L95.0,523.5 L108.4,525.7 L121.9,527.7 L135.3,529.7 L148.7,531.7 L162.2,534.2 L175.6,537.0 L189.0,539.7 L202.5,543.3 L215.9,546.8 L229.3,549.8 L242.8,551.3 L256.2,551.5 L269.6,551.0 L283.0,550.3 L296.5,547.8 L309.9,544.8 L323.3,542.0 L350.2,537.1 L363.7,533.0 L377.1,529.1 L390.5,527.2 L404.0,524.9 L417.4,523.6 L430.8,522.2 L444.3,520.6 L457.7,519.6 L471.1,518.1 L484.6,517.4 L498.0,515.6 L511.4,514.7 L524.9,513.8 L538.3,512.9 L551.7,511.8 L565.2,511.0 L578.6,510.5 L592.0,509.8 L605.5,510.6 L618.9,511.7 L632.3,514.4 L645.8,518.0 L659.2,521.9 L672.6,524.4 L686.0,527.8 L699.5,531.2 L712.9,534.1 L726.3,535.2 L739.8,536.2 L753.2,536.6 L766.6,537.5 L780.1,538.6 L793.5,539.9 L806.9,541.1 L820.4,542.1 L833.8,543.6 L847.2,544.2 L860.7,544.8 L874.1,544.0 L887.5,543.8 L901.0,544.0 L914.4,544.0 L927.8,544.6 L941.3,543.9 L954.7,545.1 L968.1,544.2 L981.6,542.7 L995.0,540.5 L1008.4,539.3 L1021.9,537.7 L1035.3,536.2 L1048.7,534.0 L1062.2,532.2 L1075.6,531.3 L1089.0,531.1 L1102.5,530.4 L1115.9,530.8 L1129.3,532.9 L1142.8,534.7 L1156.2,536.4 L1169.6,538.7 L1183.1,540.9 L1196.5,543.3 L1209.9,546.7 L1223.4,550.2 L1236.8,553.6 L1250.2,555.1 L1263.7,556.3 L1277.1,557.2 L1290.5,556.3 L1304.0,556.0 L1317.4,555.1 L1330.8,554.3 L1344.3,553.3 L1357.7,552.5 L1371.1,551.5 L1384.6,551.2 L1398.0,550.8 L1411.4,549.9 L1424.9,548.0 L1438.3,546.4 L1451.7,544.7 L1465.2,543.3 L1478.6,541.1 L1492.0,539.1 L1505.5,537.2 L1518.9,535.2 L1532.3,532.7 L1545.8,531.2 L1559.2,529.2 L1572.6,526.6 L1586.1,526.1 L1599.5,524.8 L1612.9,524.6 L1626.4,524.2 L1639.8,524.3 L1653.2,526.2 L1666.7,528.0 L1680.1,530.4 L1693.5,533.1 L1707.0,535.3 L1720.4,537.7 L1733.8,540.1 L1747.3,542.9 L1760.7,546.2 L1774.1,549.7 L1787.6,552.1 L1801.0,552.4 L1814.4,554.0 L1827.9,554.6 L1841.3,554.7" stroke="#999999" stroke-width="2"/>
<path d="M10.0,520.2 L14.4,523.5 L27.8,533.2 L41.3,543.3 L54.7,551.5 L68.1,559.8 L81.6,566.6 L95.0,569.1 L108.4,567.8 L121.9,565.3 L135.3,566.6 L148.7,563.3 L162.2,561.1 L175.6,559.3 L202.5,555.9 L215.9,552.7 L229.3,547.2 L242.8,542.8 L256.2,538.6 L269.6,534.2 L283.1,529.2 L296.5,525.0 L309.9,522.4 L323.4,517.3 L336.8,514.5 L350.2,509.3 L363.7,503.3 L377.1,499.5 L390.5,498.9 L404.0,497.0 L417.4,497.7 L430.8,498.5 L444.3,497.2 L457.7,497.0 L471.1,498.4 L484.6,501.7 L498.0,503.4 L511.4,508.4 L524.9,511.4 L538.3,515.7 L551.7,519.9 L565.2,521.9 L578.6,520.4 L592.0,519.4 L605.5,520.2 L618.9,521.0 L632.3,526.5 L645.8,533.9 L659.2,541.0 L672.6,543.7 L686.0,549.6 L699.5,551.7 L712.9,555.0 L726.3,556.3 L739.8,557.0 L753.2,557.4 L766.6,559.3 L780.1,560.0 L793.5,558.0 L806.9,557.1 L820.4,553.8 L833.8,549.0 L847.2,544.9 L860.7,543.0 L874.1,536.4 L887.5,532.5 L901.0,528.8 L914.4,525.8 L927.8,525.5 L941.3,524.4 L954.7,526.7 L968.1,528.2 L981.6,529.6 L995.0,529.4 L1008.4,528.7 L1021.9,528.2 L1035.3,526.3 L1048.7,524.0 L1062.2,524.7 L1075.6,525.3 L1089.0,526.6 L1102.5,528.0 L1115.9,529.8 L1129.3,536.1 L1142.8,537.4 L1156.2,541.2 L1169.6,545.8 L1183.1,552.1 L1196.5,558.1 L1209.9,563.4 L1223.4,570.2 L1236.8,578.7 L1250.2,582.1 L1263.7,584.7 L1277.1,584.1 L1290.5,584.0 L1304.0,581.5 L1317.4,574.2 L1330.8,567.0 L1344.3,559.1 L1357.7,551.2 L1371.1,542.1 L1384.6,533.9 L1398.0,526.0 L1411.4,516.8 L1424.9,506.2 L1438.3,501.0 L1451.7,497.5 L1465.2,500.1 L1478.6,500.3 L1492.0,501.5 L1505.5,505.6 L1518.9,510.7 L1532.3,514.3 L1545.8,519.0 L1559.2,524.7 L1572.6,528.7 L1586.1,532.3 L1599.5,534.9 L1612.9,539.6 L1626.4,543.1 L1639.8,545.3 L1653.2,546.2 L1666.7,548.2 L1680.1,550.6 L1693.5,552.6 L1707.0,552.5 L1720.4,554.6 L1733.8,555.0 L1747.3,555.6 L1760.7,557.6 L1774.1,560.8 L1787.6,564.0 L1801.0,565.1 L1814.4,568.6 L1827.9,568.5 L1841.3,565.8" stroke="#2e8b6e" stroke-width="2" stroke-opacity="0.75"/>
<path d="M10.0,564.0 L14.4,568.7 L27.8,581.6 L41.3,593.8 L54.7,573.9 L68.1,577.1 L81.6,563.7 L95.0,559.5 L108.4,547.0 L121.9,525.2 L135.3,544.2 L148.7,535.5 L162.2,546.1 L175.6,550.5 L189.0,548.9 L202.5,548.0 L215.9,550.7 L229.3,540.6 L242.8,531.0 L256.2,533.8 L269.6,517.9 L283.1,505.2 L296.5,496.6 L309.9,490.6 L323.4,485.9 L336.8,496.6 L350.2,483.8 L363.7,478.8 L377.1,496.5 L390.5,526.6 L404.0,519.0 L417.4,531.8 L430.8,523.2 L444.3,508.2 L457.7,500.9 L471.1,506.5 L484.6,518.3 L498.0,500.1 L511.4,529.0 L524.9,524.5 L538.3,526.4 L551.7,523.0 L565.2,521.7 L578.6,517.7 L592.0,515.3 L605.5,539.7 L618.9,532.2 L632.3,564.2 L645.8,579.4 L659.2,584.2 L672.6,558.2 L686.0,570.4 L699.5,563.1 L712.9,569.6 L726.3,553.5 L739.8,544.9 L753.2,540.0 L766.6,546.6 L780.1,534.3 L793.5,535.6 L806.9,536.5 L820.4,541.0 L833.8,538.0 L847.2,545.0 L860.7,539.0 L874.1,505.6 L887.5,519.7 L901.0,526.7 L914.4,516.9 L927.8,531.3 L941.3,520.3 L954.7,562.2 L968.1,541.5 L981.6,542.3 L995.0,528.9 L1008.4,530.0 L1021.9,529.1 L1035.3,525.5 L1048.7,514.8 L1062.2,510.1 L1075.6,522.4 L1089.0,535.1 L1102.5,527.2 L1115.9,546.1 L1129.3,587.9 L1142.8,579.8 L1156.2,584.0 L1169.6,595.6 L1183.1,600.3 L1196.5,598.5 L1209.9,592.5 L1223.4,605.0 L1236.8,612.6 L1250.2,553.7 L1263.7,561.5 L1277.1,543.9 L1290.5,538.1 L1304.0,536.0 L1317.4,518.0 L1330.8,509.4 L1344.3,504.3 L1357.7,510.0 L1371.1,501.3 L1384.6,505.8 L1398.0,501.8 L1411.4,499.7 L1424.9,487.0 L1438.3,486.0 L1451.7,505.3 L1465.2,551.9 L1478.6,526.3 L1492.0,533.3 L1505.5,548.7 L1518.9,550.6 L1532.3,535.8 L1545.8,553.4 L1559.2,556.1 L1572.6,546.9 L1586.1,540.9 L1599.5,530.1 L1612.9,538.4 L1626.4,528.2 L1639.8,537.0 L1653.2,567.9 L1666.7,553.6 L1680.1,564.5 L1693.5,575.8 L1707.0,558.5 L1720.4,563.7 L1733.8,563.7 L1747.3,567.7 L1760.7,570.9 L1774.1,574.4 L1787.6,565.4 L1801.0,558.5 L1814.4,566.5 L1827.9,547.1 L1841.3,551.7" stroke="#ff44ff" stroke-width="1.2" stroke-opacity="0.8"/>
<path d="M10.0,576.6 L14.4,582.0 L27.8,597.6 L41.3,609.7 L54.7,577.9 L68.1,582.5 L81.6,561.0 L95.0,554.4 L108.4,535.2 L121.9,506.6 L135.3,539.1 L148.7,526.8 L162.2,544.4 L175.6,551.5 L189.0,548.7 L202.5,547.2 L215.9,552.3 L229.3,532.9 L242.8,516.8 L256.2,523.2 L269.6,499.2 L283.1,484.5 L296.5,476.3 L309.9,471.2 L323.4,467.5 L336.8,486.8 L350.2,472.4 L363.7,467.8 L377.1,495.4 L390.5,538.0 L404.0,525.4 L417.4,543.1 L430.8,528.5 L444.3,505.3 L457.7,495.2 L471.1,504.3 L484.6,523.1 L498.0,495.3 L511.4,536.7 L524.9,529.5 L538.3,532.3 L551.7,526.3 L565.2,523.9 L578.6,516.5 L592.0,512.1 L605.5,554.4 L618.9,539.3 L632.3,582.9 L645.8,598.6 L659.2,603.2 L672.6,561.0 L686.0,577.7 L699.5,566.1 L712.9,575.6 L726.3,550.0 L739.8,537.0 L753.2,529.8 L766.6,542.0 L780.1,522.8 L793.5,525.3 L806.9,527.1 L820.4,536.9 L833.8,531.0 L847.2,546.3 L860.7,533.9 L874.1,486.3 L887.5,511.2 L901.0,523.2 L914.4,508.4 L927.8,532.7 L941.3,515.3 L954.7,574.1 L968.1,543.3 L981.6,544.5 L995.0,524.6 L1008.4,526.4 L1021.9,524.9 L1035.3,519.0 L1048.7,502.6 L1062.2,496.1 L1075.6,519.5 L1089.0,541.6 L1102.5,527.1 L1115.9,557.5 L1129.3,604.4 L1142.8,592.0 L1156.2,596.7 L1169.6,608.6 L1183.1,613.0 L1196.5,610.1 L1209.9,599.7 L1223.4,614.4 L1236.8,621.5 L1250.2,543.6 L1263.7,555.2 L1277.1,533.1 L1290.5,525.9 L1304.0,523.2 L1317.4,501.3 L1330.8,491.9 L1344.3,486.6 L1357.7,496.8 L1371.1,486.4 L1384.6,494.6 L1398.0,489.2 L1411.4,486.4 L1424.9,472.3 L1438.3,471.3 L1451.7,505.6 L1465.2,569.5 L1478.6,529.7 L1492.0,539.1 L1505.5,559.6 L1518.9,562.0 L1532.3,537.5 L1545.8,562.6 L1559.2,566.3 L1572.6,550.4 L1586.1,540.1 L1599.5,522.8 L1612.9,537.6 L1626.4,520.8 L1639.8,536.6 L1653.2,581.3 L1666.7,558.1 L1680.1,573.1 L1693.5,587.5 L1707.0,559.9 L1720.4,567.7 L1733.8,567.7 L1747.3,574.2 L1760.7,579.3 L1774.1,584.8 L1787.6,566.8 L1801.0,553.6 L1814.4,569.2 L1827.9,535.3 L1841.3,544.5" stroke="#5555ff" stroke-width="1.3" stroke-opacity="0.5"/>
</g>
<g clip-path="url(#cs)" fill="none" stroke-linejoin="round">
<path d="M10.0,812.0 L14.4,813.1 L27.8,813.1 L41.3,820.6 L54.7,822.8 L68.1,820.3 L81.6,804.7 L95.0,780.4 L108.4,742.8 L121.9,710.8 L135.3,691.9 L148.7,690.1 L162.2,708.5 L175.6,728.3 L189.0,752.9 L202.5,768.2 L215.9,774.4 L229.3,763.7 L242.8,743.2 L256.2,721.4 L269.6,706.5 L283.1,700.8 L296.5,695.2 L309.9,693.9 L323.4,688.1 L336.8,689.2 L350.2,687.4 L363.7,690.2 L377.1,690.2 L390.5,704.1 L404.0,726.9 L417.4,758.9 L430.8,774.8 L444.3,769.9 L457.7,743.9 L471.1,715.0 L484.6,704.2 L498.0,702.1 L511.4,714.6 L524.9,722.7 L538.3,744.5 L551.7,754.7 L565.2,761.9 L578.6,752.9 L592.0,740.3 L605.5,733.3 L618.9,736.7 L632.3,761.8 L645.8,783.7 L659.2,808.8 L672.6,812.8 L686.0,813.1 L699.5,798.3 L712.9,790.7 L726.3,774.8 L739.8,757.3 L753.2,730.3 L766.6,713.1 L780.1,705.1 L793.5,705.8 L806.9,705.0 L820.4,707.4 L833.8,713.7 L847.2,729.6 L860.7,744.4 L874.1,747.8 L887.5,734.4 L901.0,716.0 L914.4,706.6 L927.8,709.8 L941.3,715.0 L954.7,731.2 L968.1,742.8 L981.6,757.5 L995.0,746.7 L1008.4,731.0 L1021.9,707.6 L1035.3,697.2 L1048.7,690.4 L1062.2,687.8 L1075.6,689.8 L1089.0,705.1 L1102.5,729.4 L1115.9,750.8 L1129.3,765.1 L1142.8,772.0 L1156.2,780.4 L1169.6,783.6 L1183.1,792.5 L1196.5,801.5 L1209.9,809.4 L1223.4,812.7 L1236.8,814.9 L1250.2,809.2 L1263.7,791.1 L1277.1,756.1 L1290.5,727.3 L1304.0,703.7 L1317.4,693.1 L1330.8,687.4 L1344.3,685.7 L1357.7,686.5 L1371.1,685.1 L1384.6,690.4 L1398.0,698.6 L1411.4,709.8 L1424.9,712.4 L1438.3,706.0 L1451.7,698.7 L1465.2,711.1 L1478.6,734.7 L1492.0,758.9 L1505.5,764.9 L1518.9,773.7 L1532.3,780.7 L1545.8,790.9 L1559.2,792.0 L1572.6,793.7 L1586.1,786.2 L1599.5,771.0 L1612.9,757.2 L1626.4,755.5 L1639.8,768.1 L1653.2,783.3 L1666.7,798.1 L1680.1,807.6 L1693.5,812.1 L1707.0,812.1 L1720.4,809.0 L1733.8,799.1 L1747.3,791.5 L1760.7,787.0 L1774.1,792.7 L1787.6,794.2 L1801.0,787.5 L1814.4,771.7 L1827.9,756.7 L1841.3,751.4" stroke="#ff44ff" stroke-width="1.2" stroke-opacity="0.8"/>
<path d="M10.0,811.4 L14.4,812.9 L27.8,818.4 L41.3,831.2 L54.7,819.1 L68.1,810.2 L81.6,784.8 L95.0,747.2 L108.4,708.5 L121.9,676.9 L135.3,692.6 L148.7,700.7 L162.2,732.3 L175.6,752.0 L189.0,774.3 L202.5,778.4 L215.9,770.4 L229.3,742.2 L242.8,717.0 L256.2,705.1 L269.6,697.4 L283.1,699.9 L296.5,688.2 L309.9,693.7 L323.4,682.4 L336.8,691.6 L350.2,688.2 L363.7,690.8 L377.1,691.5 L390.5,729.9 L404.0,759.2 L417.4,787.5 L430.8,777.7 L444.3,744.5 L457.7,709.4 L471.1,691.1 L484.6,712.3 L498.0,702.9 L511.4,728.7 L524.9,736.6 L538.3,768.3 L551.7,759.1 L565.2,758.2 L578.6,741.5 L592.0,721.2 L605.5,737.2 L618.9,751.8 L632.3,796.3 L645.8,803.1 L659.2,827.0 L672.6,808.2 L686.0,804.0 L699.5,782.7 L712.9,785.4 L726.3,756.3 L739.8,730.3 L753.2,704.4 L766.6,704.7 L780.1,706.1 L793.5,706.5 L806.9,702.3 L820.4,713.3 L833.8,725.3 L847.2,750.2 L860.7,757.6 L874.1,735.6 L887.5,710.0 L901.0,702.4 L914.4,707.3 L927.8,719.6 L941.3,718.2 L954.7,755.7 L968.1,754.4 L981.6,762.3 L995.0,723.5 L1008.4,707.3 L1021.9,691.9 L1035.3,692.4 L1048.7,686.9 L1062.2,684.2 L1075.6,698.2 L1089.0,733.0 L1102.5,756.9 L1115.9,762.5 L1129.3,775.9 L1142.8,777.7 L1156.2,787.7 L1169.6,785.5 L1183.1,804.2 L1196.5,814.8 L1209.9,809.1 L1223.4,814.3 L1236.8,821.2 L1250.2,792.2 L1263.7,759.9 L1277.1,716.0 L1290.5,706.0 L1304.0,689.2 L1317.4,684.1 L1330.8,689.0 L1344.3,683.8 L1357.7,686.5 L1371.1,685.0 L1384.6,699.7 L1398.0,711.0 L1411.4,718.7 L1424.9,707.5 L1438.3,691.8 L1451.7,696.8 L1465.2,744.8 L1478.6,762.4 L1492.0,769.6 L1505.5,762.6 L1518.9,788.9 L1532.3,790.6 L1545.8,793.0 L1559.2,792.4 L1572.6,795.8 L1586.1,770.4 L1599.5,746.8 L1612.9,754.5 L1626.4,765.2 L1639.8,784.6 L1653.2,800.3 L1666.7,809.4 L1680.1,813.0 L1693.5,813.9 L1707.0,809.6 L1720.4,803.5 L1733.8,784.1 L1747.3,786.9 L1760.7,790.1 L1774.1,801.0 L1787.6,791.5 L1801.0,770.2 L1814.4,753.6 L1827.9,746.2 L1841.3,754.5" stroke="#5555ff" stroke-width="1.3" stroke-opacity="0.5"/>
</g>
<line x1="10" y1="433.8" x2="1906" y2="433.8" stroke="#333" stroke-width="1.2"/>
<line x1="10" y1="645.4" x2="1906" y2="645.4" stroke="#333" stroke-width="1.2"/>
<line x1="10" y1="853.5" x2="1906" y2="853.5" stroke="#333" stroke-width="1.4"/>
<line x1="1855.2" y1="10" x2="1855.2" y2="875" stroke="#555" stroke-width="1.5"/>
<text x="1859.3" y="87.4" font-size="7.8" fill="#666" text-anchor="start" >7.4000</text>
<text x="1859.3" y="125.6" font-size="7.8" fill="#666" text-anchor="start" >7.3000</text>
<text x="1859.3" y="202.0" font-size="7.8" fill="#666" text-anchor="start" >7.1000</text>
<text x="1859.3" y="240.2" font-size="7.8" fill="#666" text-anchor="start" >7.0000</text>
<text x="1859.3" y="278.4" font-size="7.8" fill="#666" text-anchor="start" >6.9000</text>
<text x="1859.3" y="316.6" font-size="7.8" fill="#666" text-anchor="start" >6.8000</text>
<text x="1859.3" y="354.8" font-size="7.8" fill="#666" text-anchor="start" >6.7000</text>
<text x="1859.3" y="393.0" font-size="7.8" fill="#666" text-anchor="start" >6.6000</text>
<text x="1859.3" y="431.2" font-size="7.8" fill="#666" text-anchor="start" >6.5000</text>
<text x="1859.3" y="453.9" font-size="7.8" fill="#666" text-anchor="start" >100.0000</text>
<text x="1859.3" y="490.5" font-size="7.8" fill="#666" text-anchor="start" >80.0000</text>
<text x="1859.3" y="527.1" font-size="7.8" fill="#666" text-anchor="start" >60.0000</text>
<text x="1859.3" y="600.5" font-size="7.8" fill="#666" text-anchor="start" >20.0000</text>
<text x="1859.3" y="637.1" font-size="7.8" fill="#666" text-anchor="start" >0.0000</text>
<text x="1859.3" y="668.5" font-size="7.8" fill="#666" text-anchor="start" >100.000</text>
<text x="1859.3" y="702.7" font-size="7.8" fill="#666" text-anchor="start" >80.000</text>
<text x="1859.3" y="736.9" font-size="7.8" fill="#666" text-anchor="start" >60.000</text>
<text x="1859.3" y="771.2" font-size="7.8" fill="#666" text-anchor="start" >40.000</text>
<text x="1859.3" y="805.4" font-size="7.8" fill="#666" text-anchor="start" >20.000</text>
<text x="1859.3" y="839.6" font-size="7.8" fill="#666" text-anchor="start" >0.000</text>
<text x="27.8" y="867" font-size="7.7" fill="#333" font-weight="bold" text-anchor="middle">2023</text>
<text x="95.0" y="867" font-size="7.7" fill="#555" font-weight="normal" text-anchor="middle">Feb</text>
<text x="202.5" y="867" font-size="7.7" fill="#555" font-weight="normal" text-anchor="middle">Apr</text>
<text x="323.4" y="867" font-size="7.7" fill="#555" font-weight="normal" text-anchor="middle">Jun</text>
<text x="444.3" y="867" font-size="7.7" fill="#555" font-weight="normal" text-anchor="middle">Aug</text>
<text x="551.7" y="867" font-size="7.7" fill="#555" font-weight="normal" text-anchor="middle">Oct</text>
<text x="618.9" y="867" font-size="7.7" fill="#555" font-weight="normal" text-anchor="middle">Nov</text>
<text x="726.3" y="867" font-size="7.7" fill="#333" font-weight="bold" text-anchor="middle">2024</text>
<text x="793.5" y="867" font-size="7.7" fill="#555" font-weight="normal" text-anchor="middle">Feb</text>
<text x="901.0" y="867" font-size="7.7" fill="#555" font-weight="normal" text-anchor="middle">Apr</text>
<text x="968.1" y="867" font-size="7.7" fill="#555" font-weight="normal" text-anchor="middle">May</text>
<text x="1075.6" y="867" font-size="7.7" fill="#555" font-weight="normal" text-anchor="middle">Jul</text>
<text x="1142.8" y="867" font-size="7.7" fill="#555" font-weight="normal" text-anchor="middle">Aug</text>
<text x="1263.7" y="867" font-size="7.7" fill="#555" font-weight="normal" text-anchor="middle">Oct</text>
<text x="1371.1" y="867" font-size="7.7" fill="#555" font-weight="normal" text-anchor="middle">Dec</text>
<text x="1438.3" y="867" font-size="7.7" fill="#333" font-weight="bold" text-anchor="middle">2025</text>
<text x="1545.8" y="867" font-size="7.7" fill="#555" font-weight="normal" text-anchor="middle">Mar</text>
<text x="1612.9" y="867" font-size="7.7" fill="#555" font-weight="normal" text-anchor="middle">Apr</text>
<text x="1720.4" y="867" font-size="7.7" fill="#555" font-weight="normal" text-anchor="middle">Jun</text>
<text x="1787.6" y="867" font-size="7.7" fill="#555" font-weight="normal" text-anchor="middle">Jul</text>
<path d="M1855.5,128.7 H1885 Q1887,128.7 1887,130.7 V136.9 Q1887,138.9 1885,138.9 H1855.5 Z" fill="#0a840a"/>
<text x="1872.3" y="136.6" font-size="7.6" font-weight="bold" fill="#fff" text-anchor="middle">7.2225</text>
<path d="M1855.5,140.2 H1885 Q1887,140.2 1887,142.2 V148.4 Q1887,150.4 1885,150.4 H1855.5 Z" fill="#990033"/>
<text x="1872.3" y="148.1" font-size="7.6" font-weight="bold" fill="#fff" text-anchor="middle">7.2206</text>
<path d="M1855.5,151.6 H1885 Q1887,151.6 1887,153.6 V159.8 Q1887,161.8 1885,161.8 H1855.5 Z" fill="#00cccc"/>
<text x="1872.3" y="159.5" font-size="7.6" font-weight="bold" fill="#034545" text-anchor="middle">7.2127</text>
<path d="M1855.5,162.9 H1885 Q1887,162.9 1887,164.9 V171.0 Q1887,173.0 1885,173.0 H1855.5 Z" fill="#3333ff"/>
<text x="1872.3" y="170.8" font-size="7.6" font-weight="bold" fill="#fff" text-anchor="middle">7.1822</text>
<path d="M1855.5,174.5 H1885 Q1887,174.5 1887,176.5 V182.6 Q1887,184.6 1885,184.6 H1855.5 Z" fill="#ff00ff"/>
<text x="1872.3" y="182.4" font-size="7.6" font-weight="bold" fill="#fff" text-anchor="middle">7.1792</text>
<path d="M1855.5,185.4 H1885 Q1887,185.4 1887,187.4 V193.6 Q1887,195.6 1885,195.6 H1855.5 Z" fill="#00c000"/>
<text x="1872.3" y="193.3" font-size="7.6" font-weight="bold" fill="#fff" text-anchor="middle">7.1762</text>
<path d="M1855.5,268.0 H1885 Q1887,268.0 1887,270.0 V277.0 Q1887,279.0 1885,279.0 H1855.5 Z" fill="#ff3333"/>
<text x="1872.3" y="276.3" font-size="7.6" font-weight="bold" fill="#fff" text-anchor="middle">6.9061</text>
<path d="M1855.5,539.8 H1890 Q1892,539.8 1892,541.8 V547.5 Q1892,549.5 1890,549.5 H1855.5 Z" fill="#3333ff"/>
<text x="1874.8" y="547.4" font-size="7.6" font-weight="bold" fill="#fff" text-anchor="middle">49.0921</text>
<path d="M1855.5,551.5 H1890 Q1892,551.5 1892,553.5 V559.2 Q1892,561.2 1890,561.2 H1855.5 Z" fill="#ff00ff"/>
<text x="1874.8" y="559.1" font-size="7.6" font-weight="bold" fill="#fff" text-anchor="middle">45.2119</text>
<path d="M1855.5,563.0 H1890 Q1892,563.0 1892,565.0 V570.7 Q1892,572.7 1890,572.7 H1855.5 Z" fill="#555555"/>
<text x="1874.8" y="570.6" font-size="7.6" font-weight="bold" fill="#fff" text-anchor="middle">43.6242</text>
<path d="M1855.5,574.5 H1890 Q1892,574.5 1892,576.5 V582.2 Q1892,584.2 1890,584.2 H1855.5 Z" fill="#11704e"/>
<text x="1874.8" y="582.1" font-size="7.6" font-weight="bold" fill="#fff" text-anchor="middle">37.4387</text>
<path d="M1855.5,736.0 H1885 Q1887,736.0 1887,738.0 V744.0 Q1887,746.0 1885,746.0 H1855.5 Z" fill="#ff00ff"/>
<text x="1872.3" y="743.8" font-size="7.6" font-weight="bold" fill="#fff" text-anchor="middle">52.596</text>
<path d="M1855.5,747.5 H1885 Q1887,747.5 1887,749.5 V755.5 Q1887,757.5 1885,757.5 H1855.5 Z" fill="#3333ff"/>
<text x="1872.3" y="755.3" font-size="7.6" font-weight="bold" fill="#fff" text-anchor="middle">50.163</text>
<rect x="1858.5" y="13.6" width="43.4" height="26.2" rx="3.5" fill="#fff" stroke="#eeeeee" stroke-width="1"/>
<text x="1878.9" y="31.8" font-size="12.2" fill="#444" text-anchor="middle" textLength="22.6" lengthAdjust="spacingAndGlyphs">CNH</text>
<text x="18.2" y="29.8" font-size="12.2" textLength="154.2" lengthAdjust="spacing"><tspan fill="#3a3a3a">FOREX CNH=, 1W, NYS, Bid</tspan></text>
<text x="180.4" y="29.8" font-size="12.2" textLength="46.7" lengthAdjust="spacing"><tspan fill="#3a3a3a">O</tspan><tspan fill="#5555ff">7.1931</tspan></text>
<text x="235.3" y="29.8" font-size="12.2" textLength="46.7" lengthAdjust="spacing"><tspan fill="#3a3a3a">H</tspan><tspan fill="#5555ff">7.1954</tspan></text>
<text x="290.4" y="29.8" font-size="12.2" textLength="44.6" lengthAdjust="spacing"><tspan fill="#3a3a3a">L</tspan><tspan fill="#5555ff">7.1756</tspan></text>
<text x="342.6" y="29.8" font-size="12.2" textLength="45.9" lengthAdjust="spacing"><tspan fill="#3a3a3a">C</tspan><tspan fill="#5555ff">7.1822</tspan></text>
<text x="396.9" y="29.8" font-size="12.2" textLength="95.3" lengthAdjust="spacing"><tspan fill="#5555ff">-0.0059 (−0.08%)</tspan></text>
<text x="510.5" y="29.8" font-size="12.2" textLength="90.0" lengthAdjust="spacing"><tspan fill="#3a3a3a">MA (4, close, 0)</tspan></text>
<text x="608.3" y="29.8" font-size="12.2" textLength="38.4" lengthAdjust="spacing"><tspan fill="#ff33ff">7.1792</tspan></text>
<text x="664.2" y="29.8" font-size="12.2" textLength="90.2" lengthAdjust="spacing"><tspan fill="#3a3a3a">MA (9, close, 0)</tspan></text>
<text x="762" y="29.8" font-size="12.2" textLength="39.1" lengthAdjust="spacing"><tspan fill="#33cc33">7.1762</tspan></text>
<text x="818.8" y="29.8" font-size="12.2" textLength="96.8" lengthAdjust="spacing"><tspan fill="#3a3a3a">MA (25, close, 0)</tspan></text>
<text x="923.6" y="29.8" font-size="12.2" textLength="38.4" lengthAdjust="spacing"><tspan fill="#bb2255">7.2206</tspan></text>
<text x="979.9" y="29.8" font-size="12.2" textLength="96.6" lengthAdjust="spacing"><tspan fill="#3a3a3a">MA (50, close, 0)</tspan></text>
<text x="1084.8" y="29.8" font-size="12.2" textLength="38.7" lengthAdjust="spacing"><tspan fill="#33cccc">7.2127</tspan></text>
<text x="1140.9" y="29.8" font-size="12.2" textLength="103.4" lengthAdjust="spacing"><tspan fill="#3a3a3a">MA (100, close, 0)</tspan></text>
<text x="1252.6" y="29.8" font-size="12.2" textLength="38.7" lengthAdjust="spacing"><tspan fill="#2a9a2a">7.2225</tspan></text>
<text x="1308.7" y="29.8" font-size="12.2" textLength="103.1" lengthAdjust="spacing"><tspan fill="#3a3a3a">MA (250, close, 0)</tspan></text>
<text x="1419.4" y="29.8" font-size="12.2" textLength="38.9" lengthAdjust="spacing"><tspan fill="#ff4444">6.9061</tspan></text>
<text x="18.3" y="454.0" font-size="12.2" textLength="182.9" lengthAdjust="spacing"><tspan fill="#3a3a3a">RSI (9, Exponential, Simple, 14)</tspan></text>
<text x="208.8" y="454.0" font-size="12.2" textLength="44.8" lengthAdjust="spacing"><tspan fill="#5555ff">49.0921</tspan></text>
<text x="261.5" y="454.0" font-size="12.2" textLength="45.6" lengthAdjust="spacing"><tspan fill="#2e8b6e">37.4387</tspan></text>
<text x="324.6" y="454.0" font-size="12.2" textLength="190.6" lengthAdjust="spacing"><tspan fill="#3a3a3a">RSI (14, Exponential, Simple, 25)</tspan></text>
<text x="521.7" y="454.0" font-size="12.2" textLength="46.2" lengthAdjust="spacing"><tspan fill="#ff33ff">45.2119</tspan></text>
<text x="575.1" y="454.0" font-size="12.2" textLength="45.3" lengthAdjust="spacing"><tspan fill="#666">43.6242</tspan></text>
<text x="17.8" y="665.6" font-size="12.2" textLength="187.0" lengthAdjust="spacing"><tspan fill="#3a3a3a">Stochastic Slow (5, 3, 3, Simple)</tspan></text>
<text x="212.9" y="665.6" font-size="12.2" textLength="38.4" lengthAdjust="spacing"><tspan fill="#5555ff">50.163</tspan></text>
<text x="258.8" y="665.6" font-size="12.2" textLength="38.9" lengthAdjust="spacing"><tspan fill="#ff33ff">52.596</tspan></text>
<g fill="#1a1af5">
<path d="M1832.2,890 L1833.2,886.8 L1835.5,885.4 L1838,886.2 L1839.5,887.6 L1841.5,888.2 L1842.6,890.5 L1842.2,894 L1840.8,897 L1839.6,899.6 L1838.2,902 L1836.6,901.5 L1837.4,898.2 L1835.6,896.8 L1834,897.8 L1832.4,897.4 L1833.6,894.6 L1832.6,893 Z"/>
<path d="M1842.6,888.6 H1851.4 V894.5 Q1851.4,900.4 1847,901.8 Q1842.6,900.4 1842.6,894.5 Z"/>
<path d="M1851.4,889.2 L1852.6,886.6 L1855,885 L1858,885.2 L1860.2,887 L1860.6,890 L1859.2,892.6 L1860.2,895.6 L1858.6,899.2 L1857,901.6 L1855.2,901 L1856,898.2 L1853.8,897.2 L1852,895.6 Z"/>
</g>
<g fill="#ffffff">
<rect x="1834.2" y="888.4" width="1.3" height="1.0"/>
<rect x="1836.6" y="890.2" width="1.1" height="1.2"/>
<rect x="1838.6" y="892.6" width="1.2" height="1.0"/>
<rect x="1835.2" y="893.6" width="1.4" height="1.1"/>
<rect x="1839.8" y="889.6" width="1.0" height="1.0"/>
<rect x="1837.2" y="895.6" width="1.0" height="1.3"/>
<rect x="1833.4" y="895.2" width="1.0" height="0.9"/>
<rect x="1839.6" y="896.6" width="1.0" height="1.0"/>
<rect x="1846.2" y="891.8" width="2.0" height="2.0"/>
<rect x="1844.4" y="896.6" width="1.4" height="1.0"/>
<rect x="1848.4" y="896.2" width="1.2" height="1.2"/>
<rect x="1846.6" y="899.2" width="1.0" height="0.9"/>
<rect x="1843.8" y="893.6" width="1.0" height="1.0"/>
<rect x="1849.6" y="893.0" width="1.0" height="1.0"/>
<rect x="1854.2" y="888.6" width="1.3" height="1.2"/>
<rect x="1857.2" y="889.8" width="1.2" height="1.2"/>
<rect x="1855.4" y="892.6" width="1.4" height="1.2"/>
<rect x="1858.0" y="894.2" width="1.0" height="1.0"/>
<rect x="1854.0" y="895.6" width="1.1" height="1.0"/>
<rect x="1856.6" y="897.4" width="1.2" height="1.0"/>
<rect x="1852.8" y="891.4" width="1.0" height="1.0"/>
</g>
<g fill="#1a1af5">
<rect x="1835.4" y="902.4" width="1.4" height="1.1"/>
<rect x="1838.6" y="903.2" width="1.4" height="1.1"/>
<rect x="1841.6" y="902.6" width="1.4" height="1.1"/>
<rect x="1844.6" y="903.4" width="1.4" height="1.1"/>
<rect x="1848" y="902.8" width="1.4" height="1.1"/>
<rect x="1851.2" y="903.4" width="1.4" height="1.1"/>
<rect x="1854.2" y="902.6" width="1.4" height="1.1"/>
</g>
<text x="1867.1" y="900" font-size="14.3" font-weight="bold" fill="#1a1af5" textLength="38.2" lengthAdjust="spacingAndGlyphs" font-family="'DejaVu Sans Condensed','DejaVu Sans',sans-serif">LSEG</text>
</svg>
</body></html>
